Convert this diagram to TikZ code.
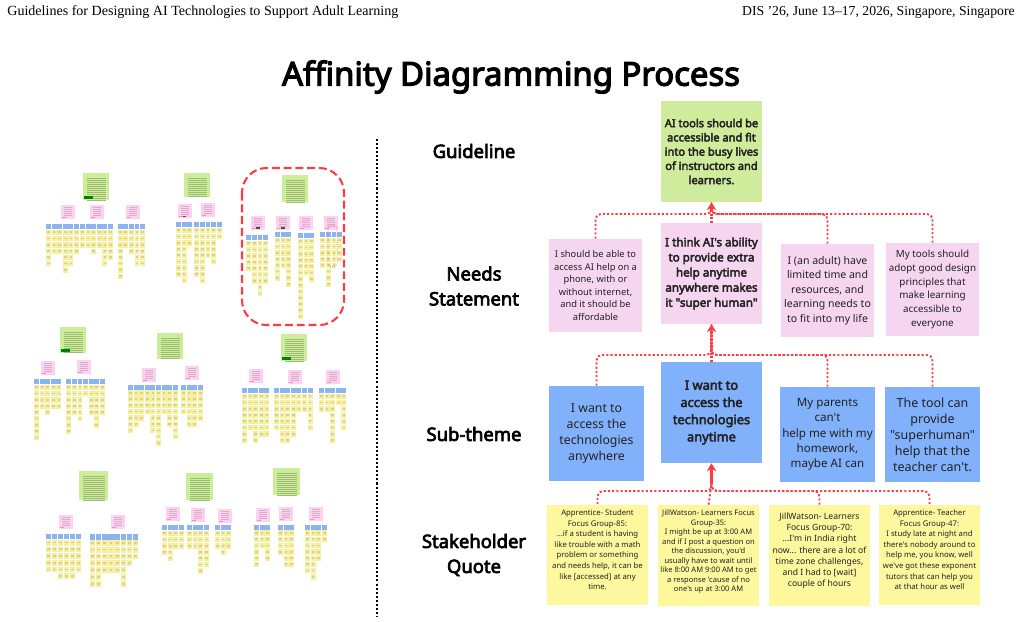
\documentclass[tikz,border=0pt]{standalone}
\usepackage{fontspec}
\usepackage{tikz}
\usetikzlibrary{arrows.meta}
\defaultfontfeatures[\rmfamily]{}
\setmainfont{Noto Sans}[BoldFont={Noto Sans}, BoldFeatures={FakeBold=3.6}]
\newfontfamily\headfont{Liberation Serif}

\definecolor{guidegreen}{HTML}{CEEC9C}
\definecolor{needpink}{HTML}{F6D5F0}
\definecolor{themeblue}{HTML}{82B1FB}
\definecolor{quoteyellow}{HTML}{FDF79D}
\definecolor{linkred}{HTML}{FF3B44}
\definecolor{minigreen}{HTML}{CDEE99}
\definecolor{minipink}{HTML}{FFD0F0}
\definecolor{miniblue}{HTML}{8CB4EE}
\definecolor{miniyellow}{HTML}{F6EF9F}
\definecolor{inkdark}{HTML}{222222}

\tikzset{
  guidebox/.style={fill=guidegreen, text=inkdark, align=center, inner sep=0pt, minimum width=2.02cm, minimum height=2.02cm},
  needbox/.style={fill=needpink, text=inkdark, align=center, inner sep=0pt, minimum width=1.86cm, minimum height=1.86cm},
  themebox/.style={fill=themeblue, text=inkdark, align=center, inner sep=0pt, minimum width=1.9cm, minimum height=1.9cm},
  quotebox/.style={fill=quoteyellow, text=inkdark, align=center, inner sep=0pt, minimum width=2.02cm, minimum height=2.02cm},
  rowlabel/.style={align=center, inner sep=0pt, font=\fontsize{10.5}{14.2}\selectfont\bfseries},
  link/.style={draw=linkred, line width=1.1pt, dash pattern=on 1.2pt off 1.2pt, rounded corners=3pt},
  stem/.style={draw=linkred, line width=1.3pt, -{Stealth[length=4.5pt,width=5.5pt]}},
  stemdot/.style={stem, dash pattern=on 1.2pt off 0.8pt},
}

% one column of tiny notes: x, y, step, number of notes
\newcommand{\stickycol}[4]{%
  \fill[miniblue] (#1,#2) rectangle +(#3*0.88,#3*0.95);
  \foreach \k in {1,...,#4} {%
    \fill[miniyellow] ({#1},{#2+#3*1.12*\k-#3*0.1}) rectangle +(#3*0.88,#3*0.95);
    \fill[black!12!miniyellow] ({#1+#3*0.2},{#2+#3*1.12*\k+#3*0.2}) rectangle +(#3*0.48,#3*0.3);
  }
}
% a row of columns: x, y, step, list of numbers
\newcommand{\stickygroup}[4]{%
  \foreach \n [count=\i from 0] in {#4} {\stickycol{#1+\i*#3}{#2}{#3}{\n}}
}
% green note, x, y, width, height
\newcommand{\greennote}[4]{%
  \fill[minigreen] (#1,#2) rectangle +(#3,#4);
  \foreach \k in {5,7,...,#4} \fill[black!22!minigreen] (#1+3.5,#2+\k) rectangle +(#3-7,0.8);
}
% pink note, x, y
\newcommand{\pinknote}[2]{%
  \fill[minipink] (#1,#2) rectangle +(14,14);
  \foreach \k in {2,4,...,10} \fill[black!16!minipink] (#1+3,#2+\k) rectangle +(8,0.8);
  \fill[magenta!45] (#1+0.5,#2+11.5) rectangle +(4,1);
}

\begin{document}
\begin{tikzpicture}[x=0.02cm, y=-0.02cm]
  \useasboundingbox (0,0) rectangle (1021,622);

  % running head and title
  \node[anchor=west, inner sep=0pt, font=\headfont\fontsize{8}{9}\selectfont] (headleft) at (7,12) {Guidelines for Designing AI Technologies to Support Adult Learning};
  \node[anchor=east, inner sep=0pt, font=\headfont\fontsize{7.8}{9}\selectfont] (headright) at (1015,12) {DIS ’26, June 13–17, 2026, Singapore, Singapore};
  \node[inner sep=0pt, font=\fontsize{18.7}{20}\selectfont\bfseries] (title) at (511,77) {Affinity Diagramming Process};

  % separator
  \draw[line width=1.1pt, dash pattern=on 1.15pt off 1.15pt] (377,139) -- (377,616);

  % top row, left cluster
  \greennote{83}{173}{26}{27}
  \fill[green!50!black] (84,196) rectangle (93,199);
  \pinknote{61}{205} \pinknote{90}{205} \pinknote{126}{205}
  \stickygroup{46}{224}{5.6}{6,4,4,7,6,4}
  \stickygroup{80}{224}{5.6}{3,3,4,3,6,5}
  \stickygroup{117.7}{224}{5.6}{8,3,4,6,6}
  % top row, middle cluster
  \greennote{184}{173}{26}{24}
  \pinknote{178}{204} \pinknote{201}{203}
  \fill[black!70] (183,215.5) rectangle (186,217);
  \stickygroup{176}{222}{5.6}{8,9,3}
  \stickygroup{194.3}{222}{5.6}{8,9,5,6,2}
  % top row, right cluster
  \greennote{282}{175}{26}{27}
  \pinknote{251}{216} \pinknote{276}{216} \pinknote{299}{216} \pinknote{324}{216}
  \fill[black!70] (256,227) rectangle (260,228.5);
  \fill[black!70] (281,227) rectangle (285,228.5);
  \stickygroup{246.3}{235}{5.6}{5,7,9,7}
  \stickygroup{275}{232}{5.6}{7,5,8}
  \stickygroup{298}{233}{5.6}{13,6,7}
  \stickygroup{320.3}{232}{5.6}{5,8,5,4}
  % middle row
  \greennote{60}{327}{26}{26}
  \fill[green!50!black] (61,349) rectangle (70,352);
  \pinknote{41}{361} \pinknote{77}{360}
  \stickygroup{34}{379}{5.6}{9,4,5,4,4}
  \stickygroup{66.3}{379}{5.6}{8,5,6,2,5,7,5}
  \greennote{157}{333}{26}{26}
  \pinknote{142}{368} \pinknote{185}{366}
  \stickygroup{128}{384.5}{5.6}{7,6,5,4,7,9,4,6,8}
  \stickygroup{181}{384.5}{5.6}{4,6,6,5}
  \greennote{281}{334}{26}{27}
  \fill[green!50!black] (282,357) rectangle (291,360);
  \pinknote{249}{369} \pinknote{288}{370} \pinknote{326}{370}
  \stickygroup{242}{388}{5.6}{8,6,8,7,7}
  \stickygroup{274}{388}{5.6}{6,8,8,7,3,3,6}
  \stickygroup{319}{388}{5.6}{3,3,8,2,6}
  % bottom row
  \greennote{79}{471}{29}{29}
  \pinknote{59}{515} \pinknote{111}{515}
  \stickygroup{46}{533.7}{6}{5,5,6,6,6,5}
  \stickygroup{90}{533.7}{6.1}{7,7,5,5,5,7,4,3}
  \greennote{186}{473}{27}{27}
  \pinknote{166}{507} \pinknote{191}{508} \pinknote{218}{509}
  \stickygroup{162}{525}{5.6}{4,5,3,3}
  \stickygroup{187}{525}{5.6}{3,3,7,6}
  \stickygroup{215}{525}{5.6}{3,4,3}
  \greennote{273}{468}{27}{27}
  \pinknote{256}{508} \pinknote{279}{507} \pinknote{309}{507}
  \stickygroup{254}{524.7}{5.6}{6,3,5}
  \stickygroup{278}{524.7}{5.6}{4,6,6}
  \stickygroup{305}{524.7}{5.6}{7,8,5,2}

  % highlight round the chosen cluster
  \draw[linkred, line width=1.2pt, dash pattern=on 4.5pt off 2.2pt, rounded corners=14pt] (242,168) rectangle (344,325);
  \draw[linkred, line width=0.3pt, densely dotted, rounded corners=2pt] (328,225) rectangle (337,267);

  % row labels
  \node[rowlabel] (labelguide) at (474,151) {Guideline};
  \node[rowlabel] (labelneed) at (474,286) {Needs\\Statement};
  \node[rowlabel] (labeltheme) at (474,434) {Sub-theme};
  \node[rowlabel] (labelquote) at (474,555) {Stakeholder\\Quote};

  % boxes, top to bottom
  \node[guidebox, font=\fontsize{6.3}{8.1}\selectfont\bfseries] (guideline) at (711.5,151.5) {AI tools should be\\accessible and fit\\into the busy lives\\of instructors and\\learners.};

  \node[needbox, font=\fontsize{5.3}{7.1}\selectfont] (need1) at (595.5,285.5) {I should be able to\\access AI help on a\\phone, with or\\without internet,\\and it should be\\affordable};
  \node[needbox, minimum width=2.02cm, minimum height=2.02cm, font=\fontsize{6.6}{8.6}\selectfont\bfseries] (need2) at (711.5,273.5) {I think AI's ability\\to provide extra\\help anytime\\anywhere makes\\it "super human"};
  \node[needbox, font=\fontsize{6}{8.3}\selectfont] (need3) at (827.5,290.5) {I (an adult) have\\limited time and\\resources, and\\learning needs to\\to fit into my life};
  \node[needbox, font=\fontsize{5.6}{7.8}\selectfont] (need4) at (932.5,289.5) {My tools should\\adopt good design\\principles that\\make learning\\accessible to\\everyone};

  \node[themebox, font=\fontsize{7}{9.1}\selectfont] (theme1) at (596.5,433.5) {I want to\\access the\\technologies\\anywhere};
  \node[themebox, minimum width=2.02cm, minimum height=2.02cm, font=\fontsize{7.3}{9.8}\selectfont\bfseries] (theme2) at (711.5,412.5) {I want to\\access the\\technologies\\anytime};
  \node[themebox, font=\fontsize{6.6}{8.7}\selectfont] (theme3) at (827.5,434.5) {My parents\\can't\\help me with my\\homework,\\maybe AI can};
  \node[themebox, font=\fontsize{7.1}{9.1}\selectfont] (theme4) at (932.5,434.5) {The tool can\\provide\\"superhuman"\\help that the\\teacher can't.};

  \node[quotebox, font=\fontsize{4.4}{6.05}\selectfont] (quote1) at (597.5,555) {Apprentice- Student\\Focus Group-85:\\...if a student is having\\like trouble with a math\\problem or something\\and needs help, it can be\\like [accessed] at any\\time.\\\mbox{}};
  \node[quotebox, font=\fontsize{4.3}{5.4}\selectfont] (quote2) at (708.5,555.5) {JillWatson- Learners Focus\\Group-35:\\I might be up at 3:00 AM\\and if I post a question on\\the discussion, you'd\\usually have to wait until\\like 8:00 AM 9:00 AM to get\\a response 'cause of no\\one's up at 3:00 AM\\\mbox{}};
  \node[quotebox, font=\fontsize{4.9}{6.4}\selectfont] (quote3) at (819.5,555.5) {JillWatson- Learners\\Focus Group-70:\\...I'm in India right\\now... there are a lot of\\time zone challenges,\\and I had to [wait]\\couple of hours\\\mbox{}};
  \node[quotebox, font=\fontsize{4.4}{6.05}\selectfont] (quote4) at (929.5,555) {Apprentice- Teacher\\Focus Group-47:\\I study late at night and\\there's nobody around to\\help me, you know, well\\we've got these exponent\\tutors that can help you\\at that hour as well\\\mbox{}};

  % connectors
  \coordinate (needbus) at (711.5,214);
  \coordinate (themebus) at (711.5,355);
  \coordinate (quotebus) at (711.5,491);
  \coordinate (quotejoin) at (711.5,484);

  \draw[link] (need1.north) |- (needbus) -- (guideline.south);
  \draw[link] (need3.north) |- (needbus) -- (guideline.south);
  \draw[link] (need4.north) |- (needbus) -- (guideline.south);
  \draw[stemdot] (need2.north) -- (guideline.south);

  \draw[link] (theme1.north) |- (themebus) -- (need2.south);
  \draw[link] (theme3.north) |- (themebus) -- (need2.south);
  \draw[link] (theme4.north) |- (themebus) -- (need2.south);
  \draw[stemdot] (theme2.north) -- (need2.south);

  \draw[link] (quote1.north) |- (quotebus) -- (quotejoin);
  \draw[link] (quote3.north) |- (quotebus) -- (quotejoin);
  \draw[link] (quote4.north) |- (quotebus) -- (quotejoin);
  \draw[link] (quote2.north) -- (quotejoin);
  \draw[stem] (quotejoin) -- (theme2.south);
\end{tikzpicture}
\end{document}
